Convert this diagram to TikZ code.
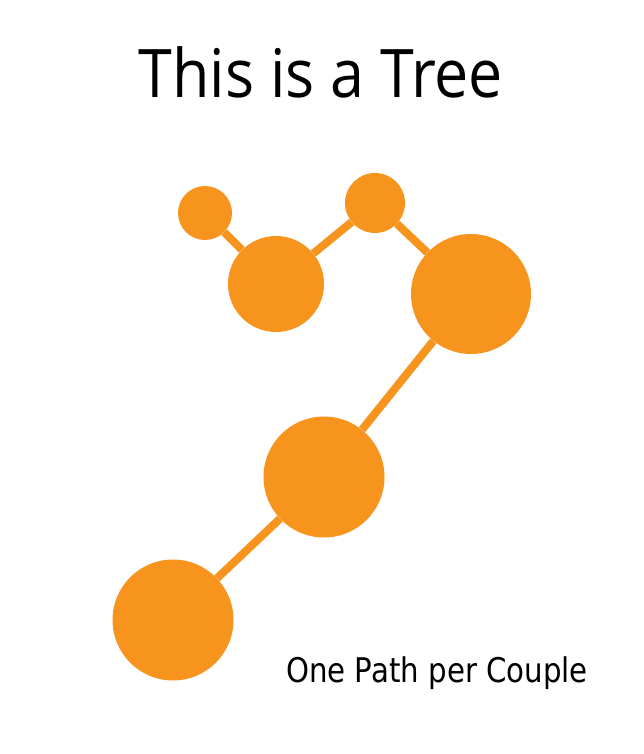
\documentclass[tikz,border=0pt]{standalone}
\usepackage{fontspec}
\setmainfont{Open Sans}
\newfontfamily\titlefont[FakeStretch=0.91]{Open Sans}
\newfontfamily\capfont[FakeStretch=0.86]{DejaVu Sans}
\usepackage{tikz}
\usetikzlibrary{positioning}
\definecolor{treeorange}{HTML}{F7941D}

\tikzset{
  vertex/.style = {circle, fill=treeorange, inner sep=0pt},
  branch/.style = {draw=treeorange, line width=8pt}
}

\begin{document}
\begin{tikzpicture}[x=1pt, y=-1pt]
  \useasboundingbox (0,0) rectangle (644,754);

  \node[anchor=base] (title) at (321,98) {\titlefont\fontsize{67}{70}\selectfont This is a Tree};

  \node[vertex, minimum size=54pt]  (a) at (205,213) {};
  \node[vertex, minimum size=96pt]  (b) at (276,284) {};
  \node[vertex, minimum size=60pt]  (c) at (375,203) {};
  \node[vertex, minimum size=120pt] (d) at (471,294) {};
  \node[vertex, minimum size=121pt] (e) at (324,477) {};
  \node[vertex, minimum size=121pt] (f) at (173,620) {};

  \draw[branch] (a) -- (b);
  \draw[branch] (b) -- (c);
  \draw[branch] (c) -- (d);
  \draw[branch] (d) -- (e);
  \draw[branch] (e) -- (f);

  \node[anchor=base] (caption) at (437,682) {\capfont\fontsize{34}{36}\selectfont One Path per Couple};
\end{tikzpicture}
\end{document}
